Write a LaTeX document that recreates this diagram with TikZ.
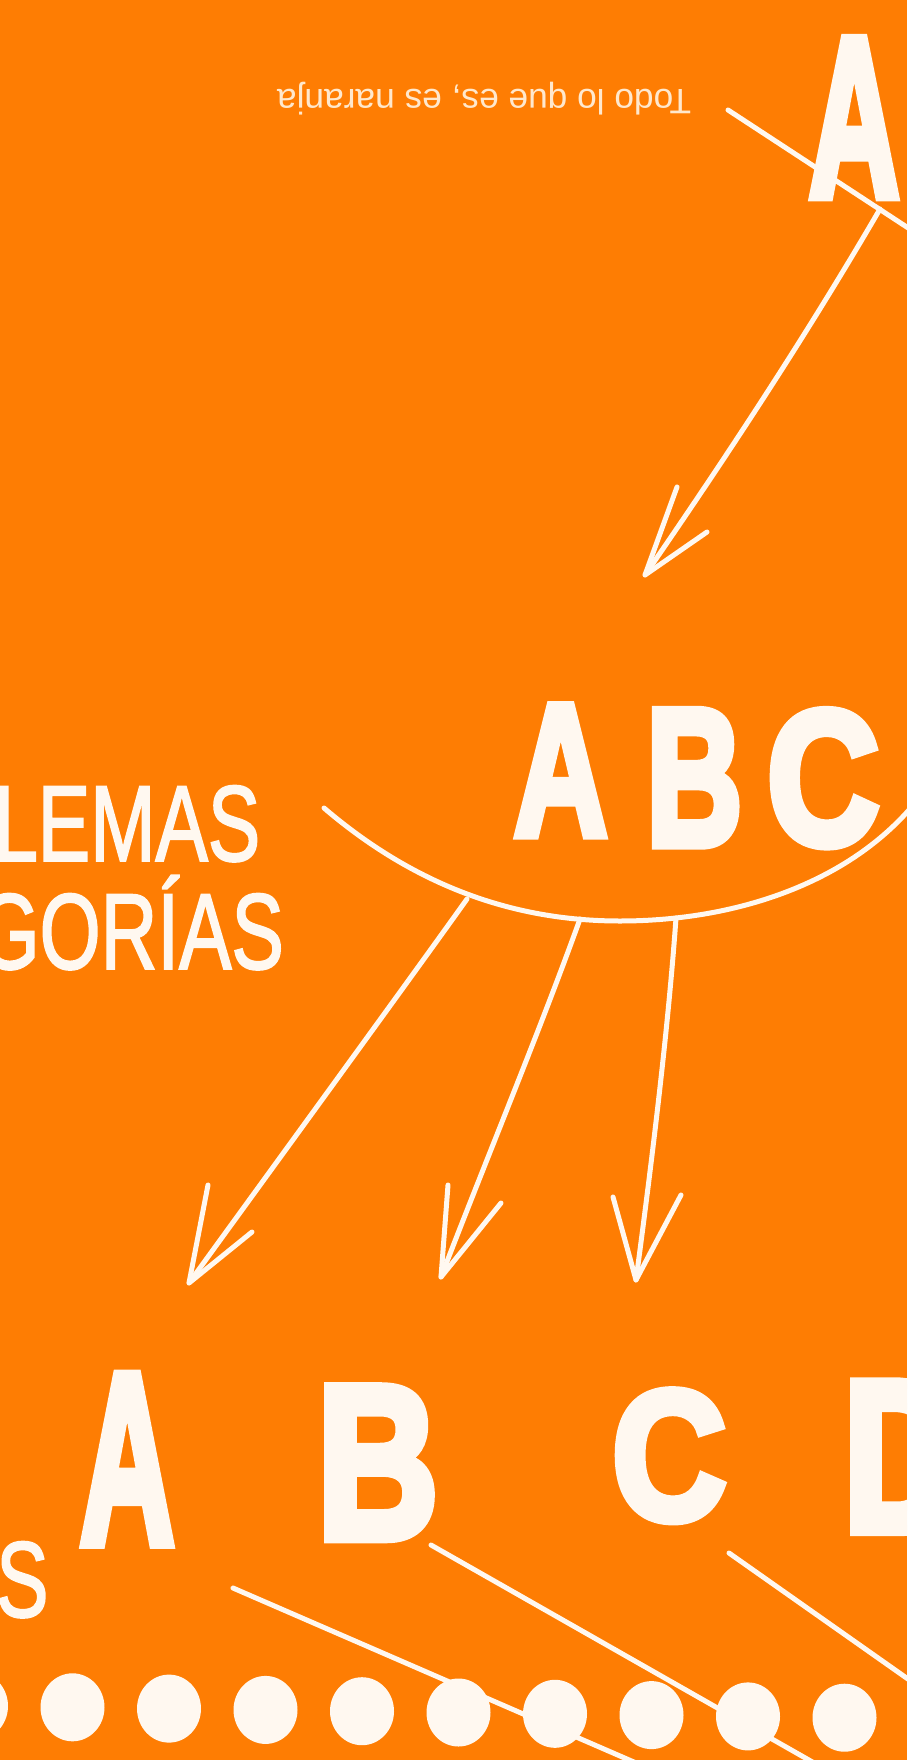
\documentclass[tikz,border=0pt]{standalone}
\usepackage{fontspec}
\usetikzlibrary{shapes.geometric}
\setmainfont{Liberation Sans}
\newfontfamily\mottofont{Liberation Sans}
\newfontfamily\blobfont{Liberation Sans Bold}[FakeBold=5]
\newfontfamily\handfont{Liberation Sans}[FakeBold=2]
\definecolor{bgorange}{RGB}{254,125,3}
\definecolor{paper}{RGB}{255,248,240}
\definecolor{cream}{RGB}{255,232,205}
\tikzset{
  inkline/.style={draw=paper, line width=5pt, line cap=round, line join=round},
  letter/.style={inner sep=0pt, text=paper, anchor=south west},
  handword/.style={inner sep=0pt, text=paper},
  holedot/.style={ellipse, fill=paper, draw=none, minimum width=64pt, minimum height=68pt, inner sep=0pt}
}
\begin{document}
\begin{tikzpicture}[x=1pt,y=-1pt]
\useasboundingbox (0,0) rectangle (907,1760);
\fill[bgorange] (0,0) rectangle (907,1760);
\begin{scope}
\clip (0,0) rectangle (907,1760);

% ---------- top ----------
\node[rotate=180, inner sep=0pt, text=cream] (motto) at (484,99)
  {\resizebox{414pt}{!}{\mottofont\fontsize{34}{36}\selectfont Todo lo que es, es naranja}};
\node[letter] (topA) at (809,196) {\resizebox{90pt}{156pt}{\blobfont A}};

\coordinate (tl1) at (728,110);
\coordinate (tl2) at (925,239);
\draw[inkline] (tl1) -- (tl2);

\coordinate (a0s) at (880,209);
\coordinate (a0t) at (645,575);
\coordinate (a0b1) at (677,487);
\coordinate (a0b2) at (707,532);
\draw[inkline] (a0s) .. controls (809,331) and (729,453) .. (a0t);
\draw[inkline] (a0b1) -- (a0t) -- (a0b2);

% ---------- middle ----------
\node[letter] (midA) at (514,835) {\resizebox{93pt}{129pt}{\blobfont A}};
\node[letter] (midB) at (646,845) {\resizebox{96pt}{134pt}{\blobfont B}};
\node[letter] (midC) at (767,846) {\resizebox{112pt}{133pt}{\blobfont C}};

\node[handword, anchor=south west] (lemas) at (-6,862)
  {\scalebox{0.73}[1]{\handfont\fontsize{107.5}{110}\selectfont LEMAS}};
\node[handword, anchor=south east] (gorias) at (284,970)
  {\scalebox{0.73}[1]{\handfont\fontsize{107.5}{110}\selectfont GORÍAS}};

\draw[inkline] (324,808) .. controls (420,890) and (520,921) .. (620,921)
  .. controls (740,921) and (860,880) .. (925,790);

\coordinate (m1s) at (467,899);
\coordinate (m1t) at (189,1283);
\coordinate (m1b1) at (208,1185);
\coordinate (m1b2) at (252,1232);
\coordinate (m2s) at (580,919);
\coordinate (m2t) at (441,1277);
\coordinate (m2b1) at (448,1185);
\coordinate (m2b2) at (501,1203);
\coordinate (m3s) at (676,918);
\coordinate (m3t) at (636,1280);
\coordinate (m3b1) at (613,1197);
\coordinate (m3b2) at (681,1195);

\draw[inkline] (m1s) .. controls (420,965) and (300,1130) .. (m1t);
\draw[inkline] (m1b1) -- (m1t) -- (m1b2);
\draw[inkline] (m2s) .. controls (540,1030) and (490,1150) .. (m2t);
\draw[inkline] (m2b1) -- (m2t) -- (m2b2);
\draw[inkline] (m3s) .. controls (668,1030) and (652,1160) .. (m3t);
\draw[inkline] (m3b1) -- (m3t) -- (m3b2);

% ---------- bottom ----------
\node[letter] (botA) at (80,1543) {\resizebox{94pt}{167pt}{\blobfont A}};
\node[letter] (botB) at (317,1538) {\resizebox{121pt}{150pt}{\blobfont B}};
\node[letter] (botC) at (612,1521) {\resizebox{114pt}{128pt}{\blobfont C}};
\node[letter] (botD) at (843,1531) {\resizebox{118pt}{148pt}{\blobfont D}};

\node[handword, anchor=south west] (botS) at (-4,1618)
  {\scalebox{0.73}[1]{\handfont\fontsize{107.5}{110}\selectfont S}};

\foreach \k in {0,...,9} {
  \node[holedot] (dot\k) at ({-24+96.5*\k},{1706+1.3*\k}) {};
}

\coordinate (l1s) at (233,1588);
\coordinate (l1e) at (650,1769);
\coordinate (l2s) at (431,1545);
\coordinate (l2e) at (830,1772);
\coordinate (l3s) at (729,1553);
\coordinate (l3e) at (925,1691);
\draw[inkline] (l1s) -- (l1e);
\draw[inkline] (l2s) -- (l2e);
\draw[inkline] (l3s) -- (l3e);
\end{scope}
\end{tikzpicture}
\end{document}
